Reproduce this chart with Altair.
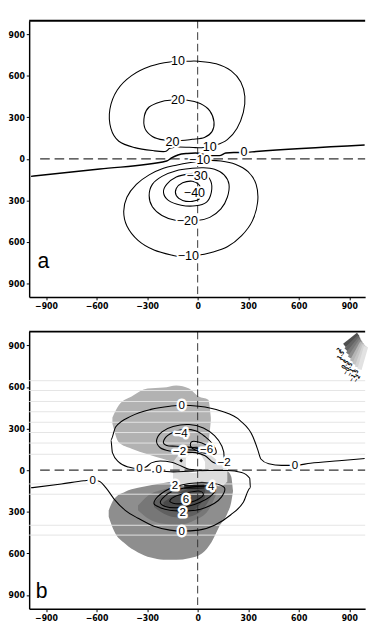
import math
import altair as alt
import pandas as pd

# ---------------- axes ----------------
TICKS = [-900, -600, -300, 0, 300, 600, 900]
X_DOMAIN = [-1000, 994]
Y_DOMAIN = [-1000, 1000]

# ---------------- panel a : contour lines (data units) ----------------
A_P10_X = [-61, -165, -278, -392, -477, -521, -515, -468, -373, -259, -193, -165, -117, -13, 34, 110, 176, 233, 271, 280, 256, 199, 110, 6]
A_P10_Y = [706, 701, 671, 602, 498, 359, 220, 127, 81, 58, 53, 76, 86, 81, 81, 100, 139, 220, 336, 451, 556, 637, 688, 706]
A_P20_X = [-61, 15, 72, 97, 85, 40, -32, -98, -203, -269, -313, -316, -288, -222, -165]
A_P20_Y = [424, 400, 347, 266, 197, 155, 141, 132, 137, 162, 220, 312, 375, 412, 424]
A_N10_X = [-4, 81, 176, 261, 324, 356, 347, 299, 223, 138, 62, -61, -127, -203, -288, -364, -420, -439, -420, -354, -259, -146, -98]
A_N10_Y = [-699, -678, -637, -556, -451, -313, -185, -93, -39, -16, -12, -30, -46, -69, -116, -185, -278, -382, -486, -590, -660, -699, -706]
A_N20_X = [-4, 72, 138, 176, 186, 157, 100, 34, -32, -127, -212, -269, -288, -269, -212, -127]
A_N20_Y = [-447, -424, -363, -278, -185, -116, -76, -65, -69, -86, -127, -185, -266, -347, -410, -447]
A_N30_X = [34, 78, 81, 53, -13, -98, -174, -203, -184, -127, -51]
A_N30_Y = [-104, -162, -243, -313, -340, -336, -301, -243, -185, -132, -109]
A_N40_X = [-32, -89, -127, -127, -89, -32, 15, 25, 6]
A_N40_Y = [-162, -174, -215, -266, -301, -308, -285, -231, -185]
A_Z0_X = [-989, -581, -184, -155, -117, -61, -13, 25, 62, 129, 167, 214, 275, 347, 991]
A_Z0_Y = [-127, -74, -16, 7, 28, 39, 42, 36, 23, 23, 42, 46, 46, 53, 100]

A_LAB_TXT = ["10", "20", "20", "10", "0", "−10", "−30", "−40", "−20", "−10"]
A_LAB_X = [-117, -117, -150, 72, 275, 12, -4, -19, -61, -55]
A_LAB_Y = [706, 428, 123, 81, 46, -12, -128, -250, -451, -706]

# ---------------- panel b : shaded field ----------------
B_UP_X = [-506, -468, -392, -297, -203, -127, -51, 6, 63, 78]
B_UP_TOP = [381, 469, 531, 589, 596, 612, 589, 531, 508, 381]
B_UP_BOT = [335, 201, 155, 115, 81, 58, 58, 81, 196, 358]

B_LO_X = [-528, -496, -430, -354, -278, -203, -127, -51, 25, 82, 129, 176, 199, 210]
B_LO_TOP = [-289, -208, -155, -127, -108, -92, -76, -46, -12, 0, 0, -7, -46, -150]
B_LO_BOT = [-335, -439, -531, -593, -630, -646, -646, -635, -600, -519, -404, -312, -231, -150]

B_L1_X = [-354, -297, -203, -108, -13, 63, 110]
B_L1_TOP = [-254, -185, -139, -115, -92, -81, -127]
B_L1_BOT = [-289, -346, -386, -393, -358, -289, -173]

B_L2_X = [-259, -203, -127, -51, 25, 82]
B_L2_TOP = [-231, -173, -139, -115, -99, -127]
B_L2_BOT = [-266, -312, -340, -335, -289, -185]

B_L3_X = [-203, -146, -89, -13, 44]
B_L3_TOP = [-231, -185, -150, -127, -139]
B_L3_BOT = [-254, -289, -307, -277, -196]

B_CEN_X = [-146, -89, -32, 25, 82, 138, 176]
B_CEN_TOP = [58, 139, 162, 150, 104, 46, 7]
B_CEN_BOT = [-92, -115, -104, -81, -104, -115, -81]

B_CORE_X = [-70, -30, 10, 44]
B_CORE_TOP = [90, 120, 115, 60]
B_CORE_BOT = [0, -20, -15, 10]

B_HLINES_Y = [646, 575, 496, 422, 346, 272, 196, 115, -99, -173, -397, -468]

# ---------------- panel b : contour lines ----------------
B_Z0U_X = [991, 839, 669, 578, 498, 422, 375, 356, 328, 252, 138, 6, -95, -165, -278, -392, -487, -515, -506, -468, -411, -345, -307, -275, -222, -155, -98, -51, 25]
B_Z0U_Y = [85, 69, 51, 35, 35, 46, 81, 150, 242, 358, 427, 462, 469, 462, 439, 392, 312, 219, 127, 58, 23, 12, 23, 53, 67, 58, 30, 7, 0]
B_Z0L_X = [-989, -809, -676, -623, -581, -544, -496, -430, -354, -259, -165, -95, 6, 100, 195, 271, 313, 309, 261, 176, 63, -51, -146, -222, -269]
B_Z0L_Y = [-127, -99, -76, -69, -81, -127, -208, -289, -346, -404, -432, -439, -432, -397, -323, -231, -127, -58, -16, -2, -2, -7, -12, -5, -12]
B_N2_X = [-244, -212, -146, -51, 34, 100, 144, 157, 138, 91, 44, -13, -89, -165, -222]
B_N2_Y = [215, 277, 316, 330, 305, 249, 173, 92, 46, 58, 104, 127, 127, 138, 162]
B_N4_X = [-203, -165, -89, -13, 44, 91, 110, 81, 25, -51, -127, -184]
B_N4_Y = [208, 261, 293, 284, 242, 185, 127, 115, 150, 168, 173, 178]
B_N6_X = [-32, 25, 72, 81, 44, -13, -42]
B_N6_Y = [208, 196, 162, 127, 122, 145, 173]
B_P2_X = [-259, -241, -193, -146, -89, -13, 63, 129, 161, 142, 100, 44, -13, -95, -165, -222]
B_P2_Y = [-242, -196, -150, -122, -104, -92, -92, -104, -132, -192, -238, -270, -289, -293, -289, -270]
B_P4_X = [-222, -193, -146, -70, 25, 81, 104, 72, 15, -51, -127, -193]
B_P4_Y = [-231, -185, -150, -127, -115, -115, -143, -192, -231, -258, -270, -261]
B_P6_X = [-165, -127, -61, 6, 34, 6, -42, -98, -146]
B_P6_Y = [-219, -185, -162, -150, -173, -208, -231, -242, -238]
B_TIGHT = [([-70, 0], [162, 166]), ([-70, 0], [150, 154]), ([-70, 0], [138, 142]),
           ([-80, 40], [-110, -108]), ([-80, 40], [-120, -118]), ([-80, 40], [-130, -128])]

B_LAB_TXT = ["0", "0", "0", "0", "0", "0", "−4", "−2", "−6", "−2", "2", "4", "6", "2"]
B_LAB_X = [-95, 578, -345, -231, -623, -95, -98, -108, 53, 157, -135, 81, -70, -89]
B_LAB_Y = [469, 35, 12, 8, -69, -439, 265, 139, 150, 58, -105, -115, -205, -302]

B_MARK_X = [-98]
B_MARK_Y = [69]

FAN_LABELS = ["2", "1.5", "1", "0.5", "−0.5", "−1", "−1.5", "−2"]
FAN_COLORS = ["#4f4f4f", "#646464", "#787878", "#8c8c8c", "#b4b4b4", "#c4c4c4", "#d4d4d4", "#e2e2e2"]

TICK_FONT = "Liberation Sans Narrow, DejaVu Sans Condensed, sans-serif"
LAB_FONT = "Liberation Sans, sans-serif"

XS = alt.Scale(domain=X_DOMAIN, nice=False, zero=False)
YS = alt.Scale(domain=Y_DOMAIN, nice=False, zero=False)
XA = alt.Axis(values=TICKS, title=None, grid=False)
YA = alt.Axis(values=TICKS, title=None, grid=False, labelExpr="format(abs(datum.value), 'd')")


def X(field="x"):
    return alt.X(f"{field}:Q", scale=XS, axis=XA)


def Y(field="y"):
    return alt.Y(f"{field}:Q", scale=YS, axis=YA)


def curves_df(curves):
    rows = []
    for cid, (xs, ys) in enumerate(curves):
        for k, (x, y) in enumerate(zip(xs, ys)):
            rows.append(dict(cid=cid, k=k, x=x, y=y))
    return pd.DataFrame(rows)


def line_layer(curves, interp, width=1.1):
    return alt.Chart(curves_df(curves)).mark_line(
        interpolate=interp, color="black", strokeWidth=width, clip=True
    ).encode(x=X(), y=Y(), detail="cid:N", order="k:Q")


def blob_layer(xs, tops, bots, color):
    df = pd.DataFrame({"x": xs, "top": tops, "bot": bots})
    return alt.Chart(df).mark_area(color=color, interpolate="monotone", clip=True).encode(
        x=X(), y=Y("top"), y2="bot:Q")


def label_layers(txt, xs, ys, halo, size):
    df = pd.DataFrame({"t": txt, "x": xs, "y": ys})
    h = alt.Chart(df).mark_text(font=LAB_FONT, fontSize=size, fill="white", stroke="white",
                                strokeWidth=halo, strokeJoin="round").encode(x=X(), y=Y(), text="t:N")
    t = alt.Chart(df).mark_text(font=LAB_FONT, fontSize=size, color="black").encode(x=X(), y=Y(), text="t:N")
    return [h, t]


def dashed_layers():
    v = alt.Chart(pd.DataFrame({"x": [0]})).mark_rule(
        color="#333333", strokeWidth=1, strokeDash=[8, 4]).encode(x=X())
    h = alt.Chart(pd.DataFrame({"x": [-935], "x2": [994], "y": [0]})).mark_rule(
        color="#333333", strokeWidth=1.3, strokeDash=[10, 5]).encode(x=X(), x2="x2:Q", y=Y())
    return [v, h]


def top_border():
    return alt.Chart(pd.DataFrame({"y": [1000]})).mark_rule(color="black", strokeWidth=2).encode(y=Y())


def letter_layer(letter, x, y):
    df = pd.DataFrame({"t": [letter], "x": [x], "y": [y]})
    return alt.Chart(df).mark_text(font="Liberation Sans Narrow, sans-serif", fontSize=22,
                                   align="left", baseline="alphabetic", color="black").encode(
        x=X(), y=Y(), text="t:N")


W = 349

# ---------------- panel a ----------------
a_layers = dashed_layers() + [
    line_layer([(A_P10_X, A_P10_Y), (A_P20_X, A_P20_Y), (A_N10_X, A_N10_Y), (A_N20_X, A_N20_Y),
                (A_N30_X, A_N30_Y), (A_N40_X, A_N40_Y)], "cardinal-closed"),
    line_layer([(A_Z0_X, A_Z0_Y)], "monotone", width=1.5),
] + label_layers(A_LAB_TXT, A_LAB_X, A_LAB_Y, 4, 13) + [letter_layer("a", -950, -787), top_border()]
panel_a = alt.layer(*a_layers).properties(width=W, height=287)

# ---------------- fan legend (pixel layout in plot coords) ----------------
cx, cy, rx, ry = W + 8, -9, 40, 65
fan_rows = []
for i, (lab, col) in enumerate(zip(FAN_LABELS, FAN_COLORS)):
    phi = math.radians(26 + i * 39 / 7)
    ux, uy = -rx * math.cos(phi), ry * math.sin(phi)
    fan_rows.append(dict(lab=lab, col=col,
                         x0=cx + 0.42 * ux, y0=max(cy + 0.42 * uy, 0),
                         x1=cx + 0.82 * ux, y1=cy + 0.82 * uy,
                         lx=cx + 0.98 * ux, ly=cy + 0.98 * uy))
fan_df = pd.DataFrame(fan_rows)
fan_rays = alt.Chart(fan_df).mark_rule(strokeWidth=4.5).encode(
    x=alt.X("x0:Q", scale=None), y=alt.Y("y0:Q", scale=None),
    x2="x1:Q", y2="y1:Q", color=alt.Color("col:N", scale=None))
fan_text = alt.Chart(fan_df).mark_text(font=TICK_FONT, fontSize=6, fontWeight="bold", angle=300,
                                       color="black").encode(
    x=alt.X("lx:Q", scale=None), y=alt.Y("ly:Q", scale=None), text="lab:N")

# ---------------- panel b ----------------
b_hlines = alt.Chart(pd.DataFrame({"y": B_HLINES_Y})).mark_rule(color="#e4e4e4", strokeWidth=1).encode(y=Y())
b_mark = alt.Chart(pd.DataFrame({"x": B_MARK_X, "y": B_MARK_Y})).mark_point(
    shape="diamond", filled=True, color="black", size=14, opacity=1).encode(x=X(), y=Y())

b_layers = [
    blob_layer(B_UP_X, B_UP_TOP, B_UP_BOT, "#b2b2b2"),
    blob_layer(B_LO_X, B_LO_TOP, B_LO_BOT, "#8e8e8e"),
    blob_layer(B_L1_X, B_L1_TOP, B_L1_BOT, "#777777"),
    blob_layer(B_L2_X, B_L2_TOP, B_L2_BOT, "#606060"),
    blob_layer(B_L3_X, B_L3_TOP, B_L3_BOT, "#4a4a4a"),
    blob_layer(B_CEN_X, B_CEN_TOP, B_CEN_BOT, "#dcdcdc"),
    blob_layer(B_CORE_X, B_CORE_TOP, B_CORE_BOT, "#ffffff"),
    b_hlines,
] + dashed_layers() + [
    line_layer([(B_N2_X, B_N2_Y), (B_N4_X, B_N4_Y), (B_N6_X, B_N6_Y),
                (B_P2_X, B_P2_Y), (B_P4_X, B_P4_Y), (B_P6_X, B_P6_Y)], "cardinal-closed"),
    line_layer([(B_Z0U_X, B_Z0U_Y), (B_Z0L_X, B_Z0L_Y)], "monotone"),
    line_layer(B_TIGHT, "linear", width=1),
] + label_layers(B_LAB_TXT, B_LAB_X, B_LAB_Y, 5, 12) + [
    b_mark, fan_rays, fan_text, letter_layer("b", -961, -921), top_border()]
panel_b = alt.layer(*b_layers).properties(width=W, height=288)

chart = alt.vconcat(panel_a, panel_b, spacing=20).properties(
    padding={"left": 0, "top": 0, "right": 0, "bottom": 0}
).configure_view(stroke=None).configure_axis(
    labelFont=TICK_FONT, labelFontSize=9, labelFontWeight="bold", labelColor="black",
    tickColor="black", tickSize=3, tickWidth=1, domainColor="black", domainWidth=1.5,
    labelPadding=2, grid=False
).configure_axisY(minExtent=20, maxExtent=20).configure_axisX(minExtent=15, maxExtent=15)

chart.save("out.html", embed_options={"renderer": "svg", "actions": False})
